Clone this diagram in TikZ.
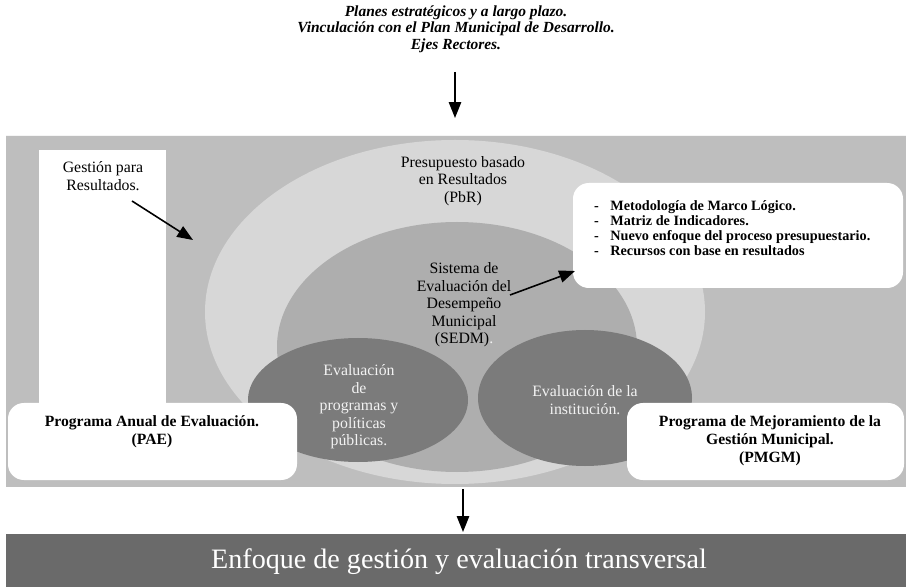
\documentclass[tikz,border=0pt]{standalone}
\usepackage{fontspec}
\setmainfont{Liberation Serif}
\usetikzlibrary{arrows.meta,positioning}

\definecolor{panelgray}{HTML}{BEBEBE}
\definecolor{pbrgray}{HTML}{D7D7D7}
\definecolor{sedmgray}{HTML}{AEAEAE}
\definecolor{evalgray}{HTML}{7B7B7B}
\definecolor{bargray}{HTML}{6A6A6A}
\definecolor{softwhite}{HTML}{F2F2F2}

\tikzset{
  arr/.style={-{Triangle[length=9pt,width=7pt]},line width=0.9pt},
  wbox/.style={fill=white,rounded corners=9pt},
  txt/.style={align=center,font=\fontsize{9}{10}\selectfont},
  boldtxt/.style={align=center,font=\fontsize{8.9}{10.2}\selectfont\bfseries},
}

\begin{document}
\begin{tikzpicture}[x=0.02cm,y=-0.02cm]
\useasboundingbox (0,0) rectangle (906,587);

% encabezado
\node[align=center,font=\fontsize{8.8}{9.4}\selectfont\bfseries\itshape] (planes) at (456,29)
  {Planes estratégicos y a largo plazo.\\Vinculación con el Plan Municipal de Desarrollo.\\Ejes Rectores.};
\coordinate (toptail) at (455,72);
\coordinate (tophead) at (455,118);
\draw[arr] (toptail) -- (tophead);

% panel gris
\fill[panelgray] (6,135) rectangle (906,487);
\draw[white!85!panelgray,line width=1pt] (6,135.5) -- (906,135.5);
\fill[white] (39,150) rectangle (166,410);
\fill[pbrgray] (455,312) ellipse (250 and 172);
\fill[sedmgray] (457,347) ellipse (180 and 125);
\fill[evalgray] (358,400) ellipse (110 and 62);
\fill[evalgray] (585,398) ellipse (107 and 68);

% textos
\node[txt] (gpr) at (103,176) {Gestión para\\Resultados.};
\node[txt] (pbr) at (463,181) {Presupuesto basado\\en Resultados\\(PbR)};
\node[txt] (sedm) at (464,305) {Sistema de\\Evaluación del\\Desempeño\\Municipal\\(SEDM)\textcolor{softwhite}{.}};
\node[txt,text=softwhite] (evprog) at (359,407) {Evaluación\\de\\programas y\\políticas\\públicas.};
\node[txt,text=softwhite] (evinst) at (585,400) {Evaluación de la\\institución.};

% cuadros blancos
\node[wbox,minimum width=330*0.02cm,minimum height=105*0.02cm] (mml) at (738,235.5) {};
\node[anchor=north west,align=left,font=\fontsize{8.1}{8.7}\selectfont\bfseries] (mmltxt) at (588,194)
  {-\hspace{0.8em}Metodología de Marco Lógico.\\
   -\hspace{0.8em}Matriz de Indicadores.\\
   -\hspace{0.8em}Nuevo enfoque del proceso presupuestario.\\
   -\hspace{0.8em}Recursos con base en resultados};
\node[wbox,minimum width=289*0.02cm,minimum height=77*0.02cm] (pae) at (152.5,441.5) {};
\node[boldtxt] (paetxt) at (152,432) {Programa Anual de Evaluación.\\(PAE)};
\node[wbox,minimum width=277*0.02cm,minimum height=77*0.02cm] (pmgm) at (765.5,441.5) {};
\node[boldtxt] (pmgmtxt) at (770,441) {Programa de Mejoramiento de la\\Gestión Municipal.\\(PMGM)};

% flechas internas
\coordinate (gprtail) at (132,201);
\coordinate (gprhead) at (193,240);
\draw[arr] (gprtail) -- (gprhead);
\coordinate (sedmtail) at (510,295);
\coordinate (mmlhead) at (575,271);
\draw[arr] (sedmtail) -- (mmlhead);

% barra inferior
\coordinate (bottail) at (463,489);
\coordinate (bothead) at (463,532);
\draw[arr] (bottail) -- (bothead);
\fill[bargray] (6,534) rectangle (906,587);
\node[text=white,font=\fontsize{16}{18}\selectfont] (enfoque) at (459,562) {Enfoque de gestión y evaluación transversal};
\end{tikzpicture}
\end{document}
